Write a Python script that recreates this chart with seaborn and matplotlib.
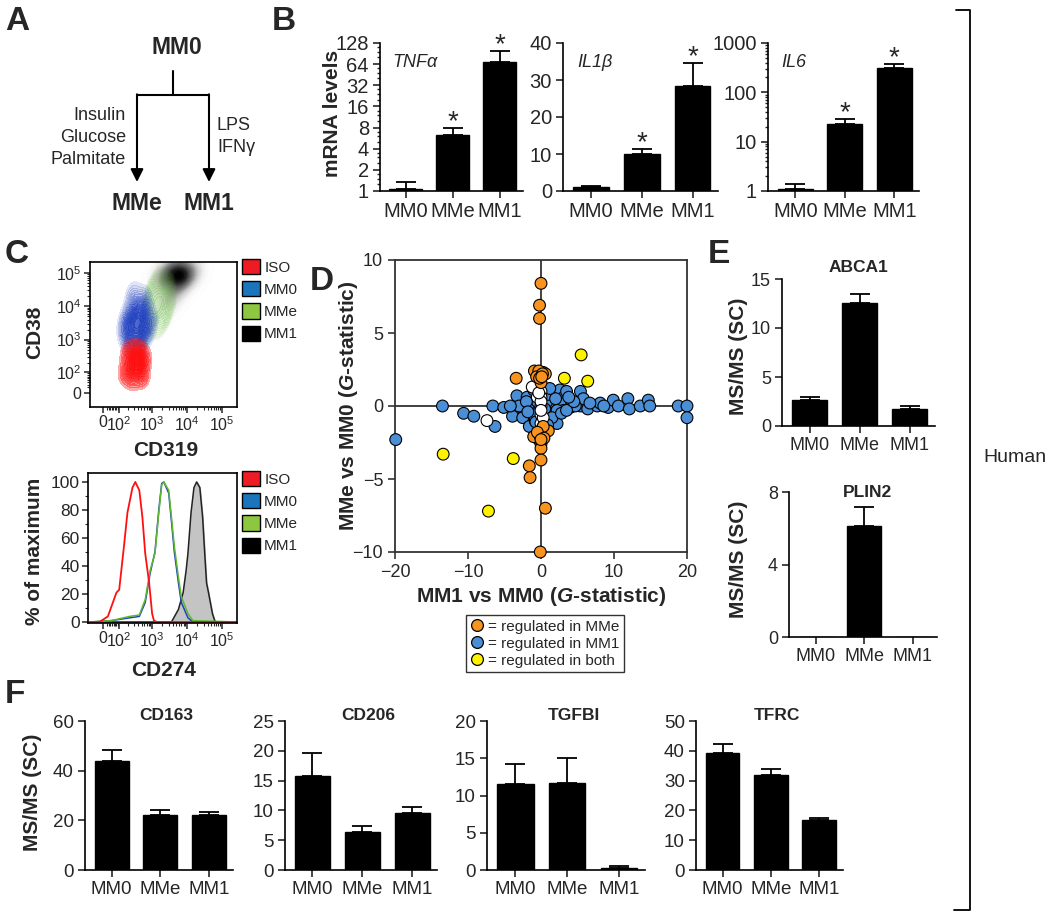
import numpy as np
import pandas as pd
import matplotlib
matplotlib.use('Agg')
import matplotlib.pyplot as plt
import seaborn as sns
from matplotlib.lines import Line2D
from matplotlib.patches import Patch
from matplotlib.colors import LinearSegmentedColormap, to_rgb
from matplotlib.ticker import FixedLocator, NullFormatter, MultipleLocator

# ---------------- data ----------------
groups = ['MM0', 'MMe', 'MM1']

# B: mRNA levels (bar value, top of error bar)
tnfa = [1.07, 6.2, 68]
tnfa_err = [1.34, 7.9, 97]
il1b = [1.2, 9.9, 28.5]
il1b_err = [1.4, 11.3, 34.6]
il6 = [1.1, 23, 311]
il6_err = [1.41, 28.6, 370]

# C top: flow cytometry populations (CD319, CD38)
iso_cd319 = [350, 240, 500, 310, 440, 190, 630, 270, 390, 210, 560, 160, 350, 310, 440]
iso_cd38 = [210, 115, 145, 380, 470, 235, 265, 55, 85, 470, 65, 85, 300, 145, 235]
mm0_cd319 = [350, 250, 550, 200, 450, 700, 300, 500, 220, 900, 380, 160, 600, 420, 280]
mm0_cd38 = [3000, 1500, 5000, 4000, 9000, 2000, 6000, 1100, 900, 3500, 700, 2200, 14000, 2500, 20000]
mme_cd319 = [1570, 990, 2500, 790, 1980, 1250, 3140, 495, 307]
mme_cd38 = [12500, 4970, 31400, 19800, 3140, 49700, 7880, 1250, 188]
mm1_cd319 = [5650, 2000, 15900, 5650, 5650, 3180, 10050, 3180, 10050, 4000, 7990, 2000, 3180, 5650]
mm1_cd38 = [99500, 99500, 99500, 49900, 198000, 70500, 70500, 140000, 140000, 25000, 49900,
            49900, 12500, 99500]

# C bottom: CD274 histograms (% of maximum)
iso_x = [-80, -19, 26, 80, 102, 150, 191, 272, 330, 432, 530, 640, 830, 1010, 1140, 1400, 300000]
iso_y = [0, 0, 4, 21, 23, 55, 78, 96, 100, 94, 75, 49, 28, 6, 1, 0, 0]
hist_x = [-80, 46, 223, 432, 640, 890, 1220, 1570, 1900, 2190, 3020, 3610, 4370, 5720, 6920, 10700, 14800, 300000]
mm0_y = [0, 1, 3, 4, 14, 35, 50, 80, 99, 100, 92, 72, 50, 28, 14, 3, 0, 0]
mme_y = [0, 1, 4, 5, 16, 37, 49, 78, 98, 100, 94, 75, 54, 32, 18, 6, 1, 0]
mm1_x = [-80, 3610, 5720, 7800, 9500, 10700, 13100, 15900, 19000, 23400, 28100, 32300, 36400, 41400, 53700, 64300, 300000]
mm1_y = [0, 0, 9, 21, 37, 49, 78, 96, 100, 96, 75, 49, 28, 21, 6, 0, 0]

# D: G-statistics (MM1 vs MM0, MMe vs MM0)
mme_reg_x = [0, -0.2, -0.2, -0.9, -3.4, 0.3, 0, -0.3, 0.6, -0.6, 0.2, -0.7, -0.3, 0, 0,
             1.0, 0.3, -1.0, -0.1, 0, -1.6, -1.5, 0.6, -0.1, -0.2, 0.1, -0.5, 0.4, 0]
mme_reg_y = [8.4, 6.9, 6.0, 2.4, 1.9, 2.3, 1.6, 2.4, 2.2, 2.0, 2.2, -2.0, -2.3, -2.6, -2.9,
             -1.7, -1.4, -2.1, -2.1, -3.7, -4.1, -4.9, -7.0, -10.0, 1.9, 2.0, -1.8, -2.2, -2.3]
mm1_reg_x = [-19.9, -13.5, -10.6, -9.2, -6.6, -6.3, -5.1, -3.9, -3.3, -2.6, -2.5, -1.9, -1.6,
             -1.3, -1.5, 1.6, 2.2, 2.6, 3.1, 3.5, 1.3, 4.0, 5.4, 5.4, 5.8, 6.4, 7.7, 8.1, 9.2,
             9.9, 10.6, 11.9, 12.1, 13.6, 14.7, 14.9, 18.8, 20, 20, 2.6, 3.1, 4.7, 6.7, 8.6,
             0.3, 0.6, 0.8, -1.0, -0.8, 2.2, -3.0, -4.2, -0.5, 0.5, 1.0, -1.0, 1.5, 2.0,
             -2.0, 2.8, 3.5, 1.2, -0.7, 0.9, -1.8, 4.5, 3.8]
mm1_reg_y = [-2.3, 0, -0.5, -0.7, 0, -1.4, -0.1, -0.7, 0.7, -0.1, -0.8, 0.6, -1.4,
             -0.3, 0.2, 0.2, -1.2, 1.1, 0.6, 1.0, -0.5, -0.1, 1.0, 0, 0.5, -0.2, 0, 0.2, -0.1,
             0.4, 0, 0.5, -0.2, 0, 0.4, 0, 0, 0, -0.8, 0.2, -0.3, 0, 0.2, 0,
             0.6, -0.4, 0.3, 1.1, -1.0, -0.3, 0, 0, 0.3, -0.2, 0.8, -0.6, -0.8, 0.5,
             0.3, -0.5, -0.3, 1.2, -1.1, -1.3, -0.4, 0.3, 0.6]
both_reg_x = [5.5, 3.2, 6.4, -13.4, -3.8, -7.2]
both_reg_y = [3.5, 1.9, 1.7, -3.3, -3.6, -7.2]
none_x = [0, 0, -1.2, 0, 0, 0, -7.4, -0.5, 0.3, 0, 0, -0.3, 0.2]
none_y = [0, 1.0, 1.3, 0.6, -0.6, -1.2, -1.0, 0.6, -0.8, 0.3, -0.3, 0.9, -1.5]

# E: MS/MS spectral counts
abca1 = [2.7, 12.5, 1.7]
abca1_err = [2.97, 13.5, 2.0]
plin2 = [0, 6.1, 0]
plin2_err = [0, 7.2, 0]

# F
cd163 = [43.9, 22.1, 22.0]
cd163_err = [48.3, 24.2, 23.2]
cd206 = [15.8, 6.3, 9.6]
cd206_err = [19.7, 7.4, 10.6]
tgfbi = [11.5, 11.7, 0.3]
tgfbi_err = [14.2, 15.1, 0.6]
tfrc = [39.3, 32.0, 16.9]
tfrc_err = [42.4, 33.9, 17.4]

# ---------------- style ----------------
sns.set_style('ticks')
plt.rcParams['font.family'] = ['Liberation Sans', 'DejaVu Sans']
plt.rcParams['mathtext.fontset'] = 'custom'
plt.rcParams['mathtext.rm'] = 'Liberation Sans'
plt.rcParams['mathtext.it'] = 'Liberation Sans:italic:bold'
plt.rcParams['mathtext.bf'] = 'Liberation Sans:bold'
plt.rcParams['axes.linewidth'] = 1.2
plt.rcParams['axes.edgecolor'] = 'black'

W, H = 1050, 913
fig = plt.figure(figsize=(W / 100, H / 100), dpi=100)


def box(l, t, r, b):
    return fig.add_axes([l / W, 1 - b / H, (r - l) / W, (b - t) / H])


def bar_panel(ax, vals, errs, tick_size=13.5):
    sns.barplot(x=groups, y=vals, color='black', saturation=1, width=0.7,
                errorbar=None, edgecolor='black', ax=ax)
    v = np.array(vals, float)
    e = np.array(errs, float)
    m = e > v
    x = np.arange(3)
    ax.errorbar(x[m], v[m], yerr=[np.zeros(m.sum()), (e - v)[m]], fmt='none',
                ecolor='black', elinewidth=1.3, capsize=7.5, capthick=1.3)
    sns.despine(ax=ax)
    ax.set_xlim(-0.55, 2.5)
    ax.set_xlabel('')
    ax.set_ylabel('')
    ax.tick_params(direction='out', length=5, width=1.2, labelsize=tick_size, pad=3)


# logicle-like display transforms for flow data
def Tx(v):
    return np.arcsinh(np.asarray(v, float) / 80) / np.log(10)


def Ty(v):
    return np.arcsinh(np.asarray(v, float) / 50) / np.log(10)


def flow_axis(ax, T, axis='x'):
    ticks = T([0, 1e2, 1e3, 1e4, 1e5])
    labels = ['0', '$10^2$', '$10^3$', '$10^4$', '$10^5$']
    minor = T([k * 10 ** d for d in range(1, 5) for k in range(2, 10)])
    a = ax.xaxis if axis == 'x' else ax.yaxis
    a.set_major_locator(FixedLocator(ticks))
    a.set_ticklabels(labels)
    a.set_minor_locator(FixedLocator(minor))
    a.set_minor_formatter(NullFormatter())


def alpha_cmap(color, a0, a1):
    r, g, b = to_rgb(color)
    return LinearSegmentedColormap.from_list('c', [(r, g, b, a0), (r, g, b, a1)])


# ---------------- B ----------------
b_specs = [
    (box(380, 43, 523, 191), tnfa, tnfa_err, 'TNF\u03b1'),
    (box(563, 43, 718, 191), il1b, il1b_err, 'IL1\u03b2'),
    (box(768, 43, 919, 191), il6, il6_err, 'IL6'),
]
for i, (ax, vals, errs, gene) in enumerate(b_specs):
    bar_panel(ax, vals, errs, tick_size=14.5)
    if i == 0:
        ax.set_yscale('log', base=2)
        ax.set_ylim(1, 128)
        ax.yaxis.set_major_locator(FixedLocator([1, 2, 4, 8, 16, 32, 64, 128]))
        ax.set_yticklabels(['1', '2', '4', '8', '16', '32', '64', '128'])
        ax.yaxis.set_minor_locator(FixedLocator(
            [b * s for b in [1, 2, 4, 8, 16, 32, 64] for s in [1.25, 1.5, 1.75]]))
        ax.yaxis.set_minor_formatter(NullFormatter())
    elif i == 1:
        ax.set_ylim(0, 40)
        ax.set_yticks([0, 10, 20, 30, 40])
    else:
        ax.set_yscale('log')
        ax.set_ylim(1, 1000)
        ax.set_yticks([1, 10, 100, 1000])
        ax.set_yticklabels(['1', '10', '100', '1000'])
    ax.tick_params(which='minor', length=2.5, width=1)
    ax.text(0.09, 0.87, gene, transform=ax.transAxes, fontsize=13,
            fontstyle='italic', va='center', ha='left')
    for j in [1, 2]:
        ax.annotate('*', (j, errs[j]), xytext=(0, -5), textcoords='offset points',
                    ha='center', va='bottom', fontsize=20, annotation_clip=False)

# ---------------- C ----------------
c_colors = ['#ed1c24', '#1b75bc', '#8dc63f', '#000000']
c_names = ['ISO', 'MM0', 'MMe', 'MM1']

axc = box(90, 262, 237, 407)
sns.kdeplot(x=Tx(mm1_cd319), y=Ty(mm1_cd38), fill=True, cmap='Greys', levels=40,
            thresh=0.004, bw_adjust=1.3, ax=axc)
sns.kdeplot(x=Tx(mme_cd319), y=Ty(mme_cd38), fill=True, cmap=alpha_cmap('#5cb82e', 0.08, 0.3),
            levels=15, thresh=0.25, ax=axc)
sns.kdeplot(x=Tx(mm0_cd319), y=Ty(mm0_cd38), fill=True, cmap=alpha_cmap('#2040c0', 0.12, 0.8),
            levels=25, thresh=0.05, bw_adjust=1.1, ax=axc)
sns.kdeplot(x=Tx(iso_cd319), y=Ty(iso_cd38), fill=True, cmap=alpha_cmap('#ff1010', 0.35, 1.0),
            levels=20, thresh=0.05, bw_adjust=1.2, ax=axc)
axc.set_xlim(-0.37, 3.83)
axc.set_ylim(-0.42, 3.93)
flow_axis(axc, Tx, 'x')
flow_axis(axc, Ty, 'y')
axc.set_xlabel('')
axc.set_ylabel('')
axc.tick_params(direction='out', length=4, width=1.1, labelsize=11.5, pad=2)
axc.tick_params(which='minor', direction='out', length=2, width=0.8)

axh = box(88, 473, 237, 623)
axh.fill_between(Tx(mm1_x), mm1_y, color='#c4c4c4', zorder=1)
sns.lineplot(x=Tx(mm1_x), y=mm1_y, color='#222222', lw=1.1, sort=False, ax=axh)
sns.lineplot(x=Tx(hist_x), y=mm0_y, color='#1f3fbf', lw=1.1, sort=False, ax=axh)
sns.lineplot(x=Tx(hist_x), y=mme_y, color='#5cb82e', lw=1.1, sort=False, ax=axh)
sns.lineplot(x=Tx(iso_x), y=iso_y, color='#ff1010', lw=1.3, sort=False, ax=axh)
axh.set_xlim(-0.43, 3.83)
axh.set_ylim(-0.7, 106.4)
flow_axis(axh, Tx, 'x')
axh.set_yticks([0, 20, 40, 60, 80, 100])
axh.yaxis.set_minor_locator(MultipleLocator(10))
axh.set_xlabel('')
axh.set_ylabel('')
axh.tick_params(direction='out', length=4, width=1.1, labelsize=11.5, pad=2)
axh.tick_params(axis='y', labelsize=12.5)
axh.tick_params(which='minor', direction='out', length=2, width=0.8)

c_handles = [Patch(facecolor=c, edgecolor='black', lw=1) for c in c_colors]
for top in [259, 471]:
    fig.legend(c_handles, c_names, loc='upper left', bbox_to_anchor=(242 / W, 1 - top / H),
               frameon=False, fontsize=11, handlelength=1.15, handleheight=1.15,
               handletextpad=0.3, labelspacing=0.42, borderpad=0, borderaxespad=0)

# ---------------- D ----------------
d_colors = {'MM1': '#4a8fd6', 'none': '#ffffff', 'MMe': '#f7931e', 'both': '#fff200'}
d_df = pd.concat([
    pd.DataFrame({'mm1': mm1_reg_x, 'mme': mm1_reg_y, 'group': 'MM1'}),
    pd.DataFrame({'mm1': none_x, 'mme': none_y, 'group': 'none'}),
    pd.DataFrame({'mm1': mme_reg_x, 'mme': mme_reg_y, 'group': 'MMe'}),
    pd.DataFrame({'mm1': both_reg_x, 'mme': both_reg_y, 'group': 'both'}),
], ignore_index=True)

axd = box(395, 260, 687, 552)
axd.axhline(0, color='#333333', lw=1.3, zorder=1)
axd.axvline(0, color='#333333', lw=1.3, zorder=1)
sns.scatterplot(data=d_df, x='mm1', y='mme', hue='group', palette=d_colors, s=72,
                edgecolor='black', linewidth=0.8, legend=False, ax=axd, zorder=3,
                clip_on=False)
axd.set_xlim(-20, 20)
axd.set_ylim(-10, 10)
axd.set_xticks([-20, -10, 0, 10, 20])
axd.set_yticks([-10, -5, 0, 5, 10])
axd.set_xlabel('')
axd.set_ylabel('')
for sp in axd.spines.values():
    sp.set_color('#333333')
    sp.set_linewidth(1.3)
axd.tick_params(direction='out', length=5, width=1.2, labelsize=13, color='#333333')

d_handles = [Line2D([], [], marker='o', ls='none', mfc=d_colors[k], mec='black', mew=0.9, ms=8.5)
             for k in ['MMe', 'MM1', 'both']]
fig.legend(d_handles, ['= regulated in MMe', '= regulated in MM1', '= regulated in both'],
           loc='upper left', bbox_to_anchor=(466 / W, 1 - 615 / H), frameon=True,
           fancybox=False, edgecolor='black', fontsize=11, handlelength=0.9,
           handletextpad=0.25, labelspacing=0.2, borderpad=0.3, borderaxespad=0)

# ---------------- E ----------------
axe1 = box(782, 279, 935, 426)
bar_panel(axe1, abca1, abca1_err, tick_size=13)
axe1.set_ylim(0, 15)
axe1.set_yticks([0, 5, 10, 15])
axe1.text(0.5, (426 - 267) / 147, 'ABCA1', transform=axe1.transAxes, ha='center',
          va='center', fontsize=12.5, fontweight='bold')

axe2 = box(789, 492, 937, 637)
bar_panel(axe2, plin2, plin2_err, tick_size=13)
axe2.set_ylim(0, 8)
axe2.set_yticks([0, 4, 8])
axe2.text(0.53, (637 - 492) / 145, 'PLIN2', transform=axe2.transAxes, ha='center',
          va='center', fontsize=12.5, fontweight='bold')

# ---------------- F ----------------
f_specs = [
    ((85, 233), cd163, cd163_err, 'CD163', 60, 20),
    ((285, 437), cd206, cd206_err, 'CD206', 25, 5),
    ((487, 645), tgfbi, tgfbi_err, 'TGFBI', 20, 5),
    ((696, 843), tfrc, tfrc_err, 'TFRC', 50, 10),
]
for (l, r), vals, errs, name, ymax, step in f_specs:
    ax = box(l, 721, r, 870)
    bar_panel(ax, vals, errs, tick_size=13.5)
    ax.set_ylim(0, ymax)
    ax.set_yticks(np.arange(0, ymax + 1, step))
    ax.text(0.55, (870 - 716) / 149, name, transform=ax.transAxes, ha='center',
            va='center', fontsize=12.5, fontweight='bold')

# ---------------- overlay: schematic, labels, bracket ----------------
ov = fig.add_axes([0, 0, 1, 1])
ov.set_xlim(0, W)
ov.set_ylim(H, 0)
ov.axis('off')

for letter, x, y in [('A', 5, 30), ('B', 272, 30), ('C', 5, 263), ('D', 310, 290),
                     ('E', 708, 263), ('F', 5, 703)]:
    ov.text(x, y, letter, fontsize=24, fontweight='bold', ha='left', va='baseline')

# panel A schematic
ov.text(177, 48, 'MM0', fontsize=16.5, fontweight='bold', ha='center', va='center')
ov.plot([173, 173], [71, 95], color='black', lw=1.5)
ov.plot([137, 209], [95, 95], color='black', lw=1.5)
for xa in [137, 209]:
    ov.annotate('', xy=(xa, 182), xytext=(xa, 94.3),
                arrowprops=dict(arrowstyle='-|>', color='black', lw=1.5,
                                mutation_scale=19, shrinkA=0, shrinkB=0))
for txt, yy in [('Insulin', 115), ('Glucose', 137), ('Palmitate', 159)]:
    ov.text(126, yy, txt, fontsize=13, ha='right', va='center')
for txt, yy in [('LPS', 126), ('IFN\u03b3', 148)]:
    ov.text(217, yy, txt, fontsize=13, ha='left', va='center')
ov.text(137, 203, 'MMe', fontsize=16.5, fontweight='bold', ha='center', va='center')
ov.text(209, 203, 'MM1', fontsize=16.5, fontweight='bold', ha='center', va='center')

# axis labels
ov.text(333, 113, 'mRNA levels', fontsize=15, fontweight='bold', rotation=90,
        ha='center', va='center')
ov.text(35, 332, 'CD38', fontsize=15, fontweight='bold', rotation=90, ha='center', va='center')
ov.text(166, 450, 'CD319', fontsize=15, fontweight='bold', ha='center', va='center')
ov.text(35, 551, '% of maximum', fontsize=15, fontweight='bold', rotation=90,
        ha='center', va='center')
ov.text(164, 670, 'CD274', fontsize=15, fontweight='bold', ha='center', va='center')
ov.text(349, 406, 'MMe vs MM0 ($G$-statistic)', fontsize=15, fontweight='bold',
        rotation=90, ha='center', va='center')
ov.text(541, 597, 'MM1 vs MM0 ($G$-statistic)', fontsize=15, fontweight='bold',
        ha='center', va='center')
ov.text(738, 356, 'MS/MS (SC)', fontsize=15, fontweight='bold', rotation=90,
        ha='center', va='center')
ov.text(738, 559, 'MS/MS (SC)', fontsize=15, fontweight='bold', rotation=90,
        ha='center', va='center')
ov.text(33, 792, 'MS/MS (SC)', fontsize=15, fontweight='bold', rotation=90,
        ha='center', va='center')

# bracket
ov.plot([956, 970, 970, 954], [10, 10, 910, 910], color='black', lw=1.3)
ov.text(983, 458, 'Human', fontsize=14, ha='left', va='center')

fig.savefig('out.png', dpi=100)
